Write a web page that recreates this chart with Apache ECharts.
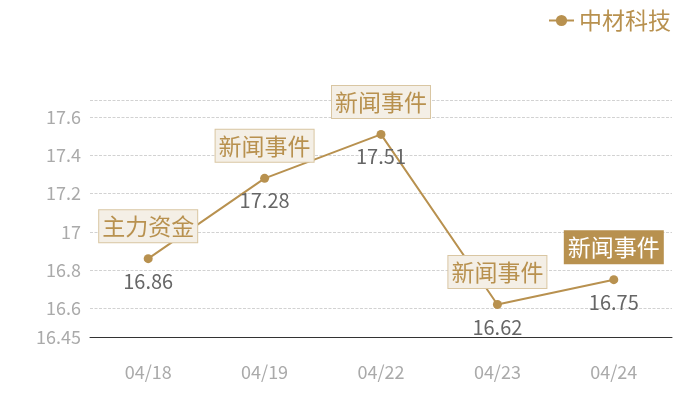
<!DOCTYPE html>
<html><head><meta charset="utf-8">
<script src="https://cdn.jsdelivr.net/npm/echarts@6/dist/echarts.min.js"></script>
<style>html,body{margin:0;padding:0;background:#fff}#c{width:700px;height:400px}</style>
</head><body><div id="c"></div>
<script>
const categories = ['04/18','04/19','04/22','04/23','04/24'];
const prices = [16.86, 17.28, 17.51, 16.62, 16.75];
const eventLabels = ['主力资金','新闻事件','新闻事件','新闻事件','新闻事件'];
const highlighted = [false, false, false, false, true];
const seriesName = '中材科技';
const yMin = 16.45, yMax = 17.69;

const gold = '#b8914f';
const font = '"Noto Sans CJK SC", "Noto Sans", sans-serif';

const markData = eventLabels.map((t, i) => ({
  coord: [i, prices[i]],
  value: t,
  label: highlighted[i] ? {
    color: '#fff', backgroundColor: gold, borderColor: gold
  } : {}
}));

const chart = echarts.init(document.getElementById('c'));
chart.setOption({
  animation: false,
  textStyle: { fontFamily: font },
  legend: {
    right: 24, top: 4,
    itemWidth: 25, itemHeight: 14, itemGap: 10,
    textStyle: { color: gold, fontSize: 23, fontFamily: font },
    data: [seriesName]
  },
  grid: { left: 90, right: 28, top: 100, bottom: 63 },
  xAxis: {
    type: 'category',
    data: categories,
    axisLine: { lineStyle: { color: '#333', width: 1 } },
    axisTick: { show: false },
    axisLabel: { color: '#aaa', fontSize: 18, margin: 26, fontFamily: font }
  },
  yAxis: {
    type: 'value',
    min: yMin, max: yMax,
    axisLine: { show: false },
    axisTick: { show: false },
    axisLabel: { color: '#aaa', fontSize: 18, margin: 9, showMaxLabel: false, fontFamily: font },
    splitLine: { lineStyle: { color: '#d2d2d2', type: [3, 1.5], width: 1 } }
  },
  series: [{
    name: seriesName,
    type: 'line',
    data: prices,
    color: gold,
    symbol: 'circle',
    symbolSize: 9,
    lineStyle: { color: gold, width: 2 },
    itemStyle: { color: gold },
    label: {
      show: true, position: 'bottom', distance: 8,
      color: '#666', fontSize: 20, fontFamily: font
    },
    markPoint: {
      symbol: 'circle',
      symbolSize: 1,
      itemStyle: { color: 'rgba(0,0,0,0)' },
      label: {
        show: true, position: 'top', distance: 16,
        formatter: p => p.value,
        color: gold, fontSize: 23, fontFamily: font,
        backgroundColor: '#f4efe6', borderColor: '#d9c6a2', borderWidth: 1,
        padding: [5, 3, 4, 3]
      },
      data: markData
    }
  }]
});
</script></body></html>
